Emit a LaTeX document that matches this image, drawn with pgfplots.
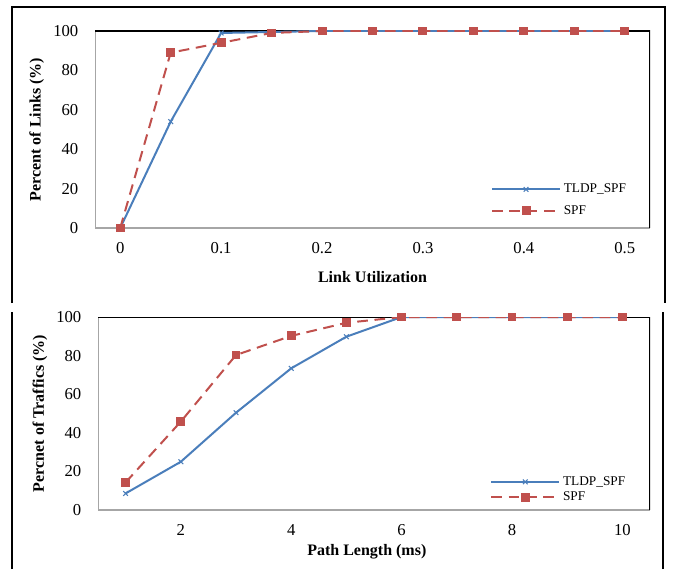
\documentclass[border=0pt]{standalone}
\usepackage{fontspec}
\setmainfont{Liberation Serif}
\usepackage{pgfplots}
\pgfplotsset{compat=1.18}
\definecolor{sblue}{HTML}{4A7EBB}
\definecolor{sred}{HTML}{C0504D}
\pgfplotsset{
  mystyle/.style={
    scale only axis,
    axis line style={draw=none},
    major tick length=0pt,
    /pgf/number format/assume math mode=true,
    tick label style={font=\fontsize{12.5}{14}\selectfont},
    xticklabel style={yshift=-7pt},
    yticklabel style={xshift=-9pt},
    label style={font=\fontsize{12}{14}\selectfont\bfseries},
    ymin=0, ymax=100, ytick={0,20,40,60,80,100},
    legend cell align=left,
    legend style={draw=none, fill=none, font=\fontsize{10}{11}\selectfont, row sep=2pt},
    legend image code/.code={\draw[mark repeat=2,mark phase=2,##1] plot coordinates {(0pt,0pt) (25.5pt,0pt) (51pt,0pt)};},
  },
  tl/.style={sblue, line width=1.5pt, mark=x, mark size=2.5pt, mark options={solid, line width=0.8pt}},
  sp/.style={sred, line width=1.5pt, dash pattern=on 8pt off 5pt, mark=square*, mark size=2.6pt, mark options={solid}},
}
\begin{document}
\begin{tikzpicture}
\useasboundingbox (0,0) rectangle (504.75pt,426.75pt);
% outer frame
\draw[line width=1pt] (9pt,199.5pt) -- (9pt,421.5pt) -- (498.75pt,421.5pt) -- (498.75pt,199.5pt);
\draw[line width=1pt] (9pt,0pt) -- (9pt,192.75pt);
\draw[line width=1pt] (497.25pt,0pt) -- (497.25pt,192.75pt);
% top axis
\begin{axis}[mystyle,
  at={(71.25pt,255.75pt)}, anchor=south west,
  width=416.25pt, height=147.75pt,
  xmin=-0.025, xmax=0.525,
  xtick={0,0.1,0.2,0.3,0.4,0.5},
  xticklabels={0,0.1,0.2,0.3,0.4,0.5},
  xlabel={Link Utilization},
  ylabel={Percent of Links (\%)},
  xlabel style={at={(axis description cs:0.5,-0.249)}, anchor=center},
  ylabel style={at={(axis description cs:-0.105,0.5)}, anchor=center},
  legend style={at={(0.706,0.252)}, anchor=north west, row sep=4pt},
]
\draw[gray!70, line width=1.5pt] (rel axis cs:0,1) -- (rel axis cs:0,0) -- (rel axis cs:1,0);
\draw[black, line width=1pt] (rel axis cs:0,1) -- (rel axis cs:1,1) -- (rel axis cs:1,0);
\addplot[tl] coordinates {(0,0) (0.05,54) (0.1,99) (0.15,99.5) (0.2,100) (0.25,100) (0.3,100) (0.35,100) (0.4,100) (0.45,100) (0.5,100)};
\addlegendentry{TLDP\_SPF}
\addplot[sp] coordinates {(0,0) (0.05,89) (0.1,94) (0.15,99) (0.2,100) (0.25,100) (0.3,100) (0.35,100) (0.4,100) (0.45,100) (0.5,100)};
\addlegendentry{SPF}
\end{axis}
% bottom axis
\begin{axis}[mystyle,
  at={(73.5pt,44.25pt)}, anchor=south west,
  width=414pt, height=144.75pt,
  xmin=0.5, xmax=10.5,
  xtick={2,4,6,8,10},
  xlabel={Path Length (ms)},
  ylabel={Percnet of Traffics (\%)},
  xlabel style={at={(axis description cs:0.487,-0.218)}, anchor=center},
  ylabel style={at={(axis description cs:-0.105,0.5)}, anchor=center},
  legend style={at={(0.703,0.203)}, anchor=north west, row sep=-0.5pt},
]
\draw[gray!70, line width=1.5pt] (rel axis cs:0,1) -- (rel axis cs:0,0) -- (rel axis cs:1,0);
\draw[black, line width=1pt] (rel axis cs:0,1) -- (rel axis cs:1,1) -- (rel axis cs:1,0);
\addplot[tl] coordinates {(1,8.6) (2,25) (3,50.4) (4,73.4) (5,89.8) (6,100) (7,100) (8,100) (9,100) (10,100)};
\addlegendentry{TLDP\_SPF}
\addplot[sp] coordinates {(1,14.3) (2,45.8) (3,80.3) (4,90.2) (5,97) (6,100) (7,100) (8,100) (9,100) (10,100)};
\addlegendentry{SPF}
\end{axis}
\end{tikzpicture}
\end{document}
